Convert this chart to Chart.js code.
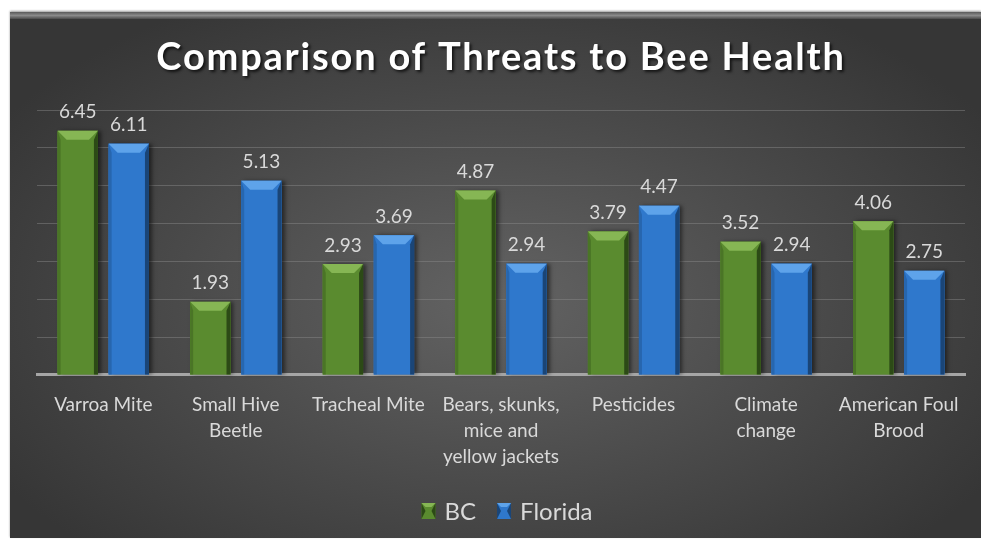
<!DOCTYPE html>
<html>
<head>
<meta charset="utf-8">
<script src="https://cdn.jsdelivr.net/npm/chart.js@4.4.0/dist/chart.umd.min.js"></script>
<style>
  html, body { margin: 0; padding: 0; background: #fff; }
  #frame {
    position: absolute; left: 10px; top: 12px; width: 971px; height: 526px;
    background: radial-gradient(ellipse 60% 65% at 50% 55%, #636363 0%, #4a4a4a 55%, #363636 100%);
    box-shadow: 0 -1px 2px #999;
  }
  #frame:before {
    content: ""; position: absolute; left: 0; right: 0; top: 0; height: 7px;
    background: linear-gradient(#5a5a5a, #8a8a8a 50%, #4a4a4a);
  }
  canvas { position: absolute; left: 0; top: 0; }
</style>
</head>
<body>
<div id="frame"><canvas id="chartCanvas" width="971" height="526"></canvas></div>
<script>
const chartTitle = 'Comparison of Threats to Bee Health';
const categories = [
    "Varroa Mite",
    ["Small Hive", "Beetle"],
    "Tracheal Mite",
    ["Bears, skunks,", "mice and", "yellow jackets"],
    "Pesticides",
    ["Climate", "change"],
    ["American Foul", "Brood"]
];
const bcValues = [6.45, 1.93, 2.93, 4.87, 3.79, 3.52, 4.06];
const floridaValues = [6.11, 5.13, 3.69, 2.94, 4.47, 2.94, 2.75];

const FONT = "Lato, 'Open Sans', sans-serif";
const green = { face: '#5a8b2f', top: '#86b654', side: '#4a7526', dark: '#2c4a16' };
const blue = { face: '#2f78cc', top: '#5ea3ea', side: '#2766ae', dark: '#1a4577' };
const colors = [green, blue];

// bevelled bar face
function drawBevel(ctx, x0, x1, y0, y1, c) {
    const b = Math.min(9, (x1 - x0) / 4, (y1 - y0) / 2);
    ctx.fillStyle = c.face;
    ctx.fillRect(x0, y0, x1 - x0, y1 - y0);
    ctx.fillStyle = c.top;
    ctx.beginPath();
    ctx.moveTo(x0, y0); ctx.lineTo(x1, y0); ctx.lineTo(x1 - b, y0 + b); ctx.lineTo(x0 + b, y0 + b);
    ctx.closePath(); ctx.fill();
    ctx.fillStyle = c.side;
    ctx.beginPath();
    ctx.moveTo(x0, y0); ctx.lineTo(x0 + 3, y0 + b); ctx.lineTo(x0 + 3, y1); ctx.lineTo(x0, y1);
    ctx.closePath(); ctx.fill();
    ctx.fillStyle = c.dark;
    ctx.beginPath();
    ctx.moveTo(x1, y0); ctx.lineTo(x1 - 4, y0 + b); ctx.lineTo(x1 - 4, y1); ctx.lineTo(x1, y1);
    ctx.closePath(); ctx.fill();
}

function legendBox(ctx, x, y, w, h, c) {
    ctx.fillStyle = c.face; ctx.fillRect(x, y, w, h);
    ctx.fillStyle = c.dark;
    ctx.beginPath(); ctx.moveTo(x, y); ctx.lineTo(x + 4, y + h / 2); ctx.lineTo(x, y + h); ctx.fill();
    ctx.beginPath(); ctx.moveTo(x + w, y); ctx.lineTo(x + w - 4, y + h / 2); ctx.lineTo(x + w, y + h); ctx.fill();
    ctx.fillStyle = c.top;
    ctx.beginPath(); ctx.moveTo(x, y); ctx.lineTo(x + w, y); ctx.lineTo(x + w - 4, y + 4); ctx.lineTo(x + 4, y + 4); ctx.fill();
}

const decorations = {
    id: 'decorations',
    afterDatasetsDraw(chart) {
        const ctx = chart.ctx;
        ctx.save();
        chart.data.datasets.forEach((ds, i) => {
            const c = colors[i];
            chart.getDatasetMeta(i).data.forEach((bar, j) => {
                const p = bar.getProps(['x', 'y', 'base', 'width'], true);
                ctx.shadowColor = 'rgba(0,0,0,0.5)';
                ctx.shadowOffsetX = 3; ctx.shadowBlur = 4;
                ctx.fillStyle = c.face;
                ctx.fillRect(p.x - p.width / 2, p.y, p.width, p.base - p.y);
                ctx.shadowColor = 'transparent';
                drawBevel(ctx, p.x - p.width / 2, p.x + p.width / 2, p.y, p.base, c);
                ctx.fillStyle = '#d9d9d9';
                ctx.font = "19px " + FONT;
                ctx.textAlign = 'center';
                ctx.textBaseline = 'bottom';
                ctx.fillText(ds.data[j].toFixed(2), p.x, p.y - 9);
            });
        });
        ctx.restore();
    },
    afterDraw(chart) {
        const ctx = chart.ctx;
        const area = chart.chartArea;
        const cx = (area.left + area.right) / 2;
        ctx.save();
        // title
        ctx.font = "bold 38px " + FONT;
        ctx.letterSpacing = '1.8px';
        ctx.textAlign = 'center';
        ctx.textBaseline = 'middle';
        ctx.shadowColor = 'rgba(0,0,0,0.7)';
        ctx.shadowOffsetX = 2; ctx.shadowOffsetY = 2; ctx.shadowBlur = 3;
        ctx.fillStyle = '#ffffff';
        ctx.fillText(chartTitle, cx, 46);
        ctx.shadowColor = 'transparent';
        ctx.letterSpacing = '0px';
        // legend
        ctx.font = "24px " + FONT;
        ctx.textAlign = 'left';
        const boxW = 14, gapBox = 9, gapItem = 21;
        const items = chart.data.datasets.map(ds => ({ label: ds.label, w: ctx.measureText(ds.label).width }));
        let total = 0;
        items.forEach((it, i) => { total += boxW + gapBox + it.w + (i ? gapItem : 0); });
        let x = cx + 6 - total / 2;
        const ly = 499;
        items.forEach((it, i) => {
            legendBox(ctx, x, ly - 8, boxW, 16, colors[i]);
            x += boxW + gapBox;
            ctx.fillStyle = '#d9d9d9';
            ctx.fillText(it.label, x, ly + 1);
            x += it.w + gapItem;
        });
        ctx.restore();
    }
};

new Chart(document.getElementById('chartCanvas').getContext('2d'), {
    type: 'bar',
    data: {
        labels: categories,
        datasets: [
            { label: 'BC', data: bcValues, backgroundColor: 'rgba(0,0,0,0)' },
            { label: 'Florida', data: floridaValues, backgroundColor: 'rgba(0,0,0,0)' }
        ]
    },
    options: {
        responsive: false,
        animation: false,
        categoryPercentage: 0.77,
        barPercentage: 0.79,
        layout: { padding: { left: 27, right: 16, top: 98, bottom: 59 } },
        plugins: {
            legend: { display: false },
            title: { display: false },
            tooltip: { enabled: false }
        },
        scales: {
            x: {
                grid: { display: false },
                border: { color: '#a6a6a6', width: 3 },
                ticks: {
                    color: '#d9d9d9',
                    font: { family: FONT, size: 19, lineHeight: 1.37 },
                    autoSkip: false, maxRotation: 0, padding: 9
                }
            },
            y: {
                min: 0, max: 7,
                ticks: { display: false, stepSize: 1 },
                border: { display: false },
                grid: { color: 'rgba(140,140,140,0.45)', lineWidth: 1, drawTicks: false }
            }
        }
    },
    plugins: [decorations]
});
</script>
</body>
</html>
